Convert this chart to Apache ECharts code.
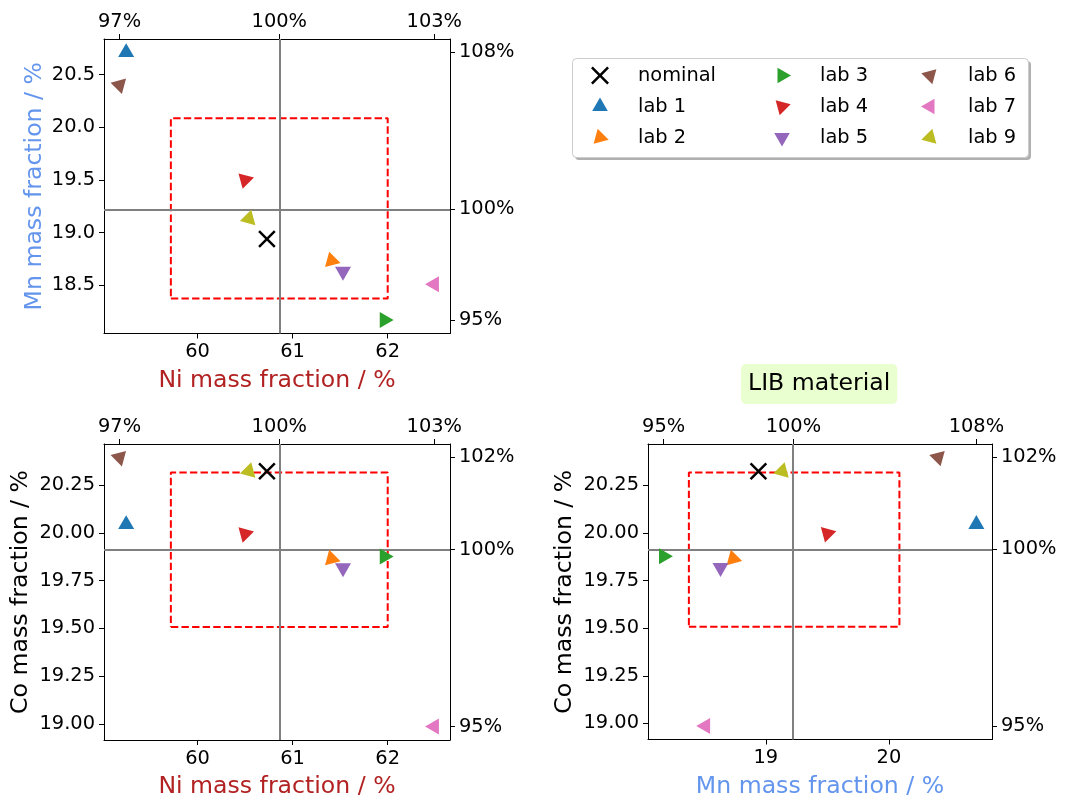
<!DOCTYPE html>
<html>
<head>
<meta charset="utf-8">
<script src="https://cdn.jsdelivr.net/npm/echarts@6/dist/echarts.min.js"></script>
<style>
  html, body { margin: 0; padding: 0; background: #fff; }
  #main { width: 1083px; height: 802px; }
</style>
</head>
<body>
<div id="main"></div>
<script>
// labels, in the order they are plotted
var labNames = ["nominal", "lab 1", "lab 2", "lab 3", "lab 4", "lab 5", "lab 6", "lab 7", "lab 9"];
// mass fractions / %
var niValues = [60.73, 59.25, 61.41, 61.965, 60.50, 61.53, 59.18, 62.49, 60.54];
var mnValues = [18.94, 20.71, 18.735, 18.17, 19.50, 18.632, 20.40, 18.51, 19.133];
var coValues = [20.324, 20.045, 19.865, 19.877, 19.996, 19.817, 20.396, 18.986, 20.324];

// mean lines (100 %)
var niRef = 60.86;
var mnRef = 19.224;
var coRef = 19.913;

// red dashed acceptance box [low, high]
var niBox = [59.72, 62.00];
var mnBox = [18.375, 20.085];
var coBox = [19.507, 20.317];

// tick positions and labels
var niTicks = [60, 61, 62];
var mnTicksLeft = [18.5, 19.0, 19.5, 20.0, 20.5];
var mnTicksBottom = [19, 20];
var coTicks = [19.0, 19.25, 19.5, 19.75, 20.0, 20.25];
var niPctTicks = [59.18, 60.86, 62.49];
var niPctLabels = ["97%", "100%", "103%"];
var mnPctTicks = [18.17, 19.224, 20.71];
var mnPctLabels = ["95%", "100%", "108%"];
var coPctTicks = [18.986, 19.913, 20.396];
var coPctLabels = ["95%", "100%", "102%"];

// axis ranges
var niRange = [59.017, 62.655];
var mnRange = [18.043, 20.837];
var coRange = [18.9155, 20.4665];

var colors = ["#000000", "#1f77b4", "#ff7f0e", "#2ca02c", "#d62728", "#9467bd", "#8c564b", "#e377c2", "#bcbd22"];
// triangle rotation, degrees counter-clockwise
var angles = [0, 0, 15, 30, 45, 60, 75, 90, 105];

var FONT = "DejaVu Sans";
var TICK_SIZE = 19.4;
var NAME_SIZE = 23.6;
var NI_COLOR = "#b22222";
var MN_COLOR = "#6495ed";

var crossPath = "path://M0,1L1,0L5,4L9,0L10,1L6,5L10,9L9,10L5,6L1,10L0,9L4,5Z";

// equilateral triangle around its centre, turned by deg; the two tiny
// extra bits keep the bounding box square so the centre stays put
function triangle(deg) {
  var pts = [];
  for (var j = 0; j < 3; j++) {
    var a = (90 + deg + 120 * j) * Math.PI / 180;
    pts.push(Math.cos(a).toFixed(4) + "," + (-Math.sin(a)).toFixed(4));
  }
  return "path://M" + pts.join("L") + "Z M-1,-1L-1,-0.999Z M1,1L1,0.999Z";
}

function markerOf(i) {
  return i === 0 ? crossPath : triangle(angles[i]);
}

var grids = [
  { left: 104, top: 39, width: 346, height: 294.5 },
  { left: 104, top: 444, width: 346, height: 296 },
  { left: 648, top: 444, width: 344, height: 295.5 }
];

function fixed(n) {
  return function (v) { return Number(v).toFixed(n); };
}

function lookup(vals, labels) {
  return function (v) {
    for (var i = 0; i < vals.length; i++) {
      if (Math.abs(v - vals[i]) < 1e-6) return labels[i];
    }
    return "";
  };
}

function makeAxis(gridIndex, position, range, ticks, fmt, name, nameColor, nameGap) {
  var axis = {
    type: "value",
    gridIndex: gridIndex,
    position: position,
    min: range[0],
    max: range[1],
    splitLine: { show: false },
    axisLine: { show: true, onZero: false, lineStyle: { color: "#000", width: 1 } },
    axisTick: { show: true, length: 5, customValues: ticks, lineStyle: { color: "#000", width: 1 } },
    axisLabel: {
      customValues: ticks,
      formatter: fmt,
      margin: (position === "top") ? 8 : 9,
      color: "#000",
      fontSize: TICK_SIZE,
      fontFamily: FONT
    }
  };
  if (name) {
    axis.name = name;
    axis.nameLocation = "middle";
    axis.nameGap = nameGap;
    axis.nameTextStyle = { color: nameColor, fontSize: NAME_SIZE, fontFamily: FONT };
  }
  return axis;
}

var xAxes = [
  makeAxis(0, "bottom", niRange, niTicks, fixed(0), "Ni mass fraction / %", NI_COLOR, 35),
  makeAxis(0, "top", niRange, niPctTicks, lookup(niPctTicks, niPctLabels)),
  makeAxis(1, "bottom", niRange, niTicks, fixed(0), "Ni mass fraction / %", NI_COLOR, 35),
  makeAxis(1, "top", niRange, niPctTicks, lookup(niPctTicks, niPctLabels)),
  makeAxis(2, "bottom", mnRange, mnTicksBottom, fixed(0), "Mn mass fraction / %", MN_COLOR, 35),
  makeAxis(2, "top", mnRange, mnPctTicks, lookup(mnPctTicks, mnPctLabels))
];

var yAxes = [
  makeAxis(0, "left", mnRange, mnTicksLeft, fixed(1), "Mn mass fraction / %", MN_COLOR, 57),
  makeAxis(0, "right", mnRange, mnPctTicks, lookup(mnPctTicks, mnPctLabels)),
  makeAxis(1, "left", coRange, coTicks, fixed(2), "Co mass fraction / %", "#000", 71),
  makeAxis(1, "right", coRange, coPctTicks, lookup(coPctTicks, coPctLabels)),
  makeAxis(2, "left", coRange, coTicks, fixed(2), "Co mass fraction / %", "#000", 71),
  makeAxis(2, "right", coRange, coPctTicks, lookup(coPctTicks, coPctLabels))
];

// x / y data for each panel
var panels = [
  { xs: niValues, ys: mnValues, xRef: niRef, yRef: mnRef, xBox: niBox, yBox: mnBox },
  { xs: niValues, ys: coValues, xRef: niRef, yRef: coRef, xBox: niBox, yBox: coBox },
  { xs: mnValues, ys: coValues, xRef: mnRef, yRef: coRef, xBox: mnBox, yBox: coBox }
];

var series = [];
panels.forEach(function (p, k) {
  series.push({
    name: "box" + k,
    type: "line",
    xAxisIndex: 2 * k,
    yAxisIndex: 2 * k,
    symbol: "none",
    silent: true,
    z: 2,
    lineStyle: { color: "#ff0000", width: 2, type: [7.4, 3.2] },
    data: [
      [p.xBox[0], p.yBox[0]], [p.xBox[1], p.yBox[0]],
      [p.xBox[1], p.yBox[1]], [p.xBox[0], p.yBox[1]],
      [p.xBox[0], p.yBox[0]]
    ],
    markLine: {
      silent: true,
      symbol: ["none", "none"],
      label: { show: false },
      lineStyle: { color: "#808080", width: 2, type: "solid" },
      data: [{ xAxis: p.xRef }, { yAxis: p.yRef }]
    }
  });
  for (var i = 0; i < labNames.length; i++) {
    series.push({
      name: labNames[i],
      type: "scatter",
      xAxisIndex: 2 * k,
      yAxisIndex: 2 * k,
      symbol: markerOf(i),
      symbolSize: i === 0 ? 17.5 : 18.5,
      itemStyle: { color: colors[i], opacity: 1 },
      z: 5,
      data: [[p.xs[i], p.ys[i]]]
    });
  }
});

function legendCol(from, to, left) {
  var items = [];
  for (var i = from; i < to; i++) {
    items.push({
      name: labNames[i],
      icon: markerOf(i),
      itemStyle: { color: colors[i] }
    });
  }
  return {
    data: items,
    orient: "vertical",
    left: left,
    top: 66,
    padding: 0,
    itemWidth: 18,
    itemHeight: 18,
    itemGap: 12,
    symbolKeepAspect: true,
    selectedMode: false,
    textStyle: { color: "#000", fontSize: TICK_SIZE, fontFamily: FONT, padding: [0, 0, 0, 24] }
  };
}

var option = {
  backgroundColor: "#fff",
  animation: false,
  textStyle: { fontFamily: FONT },
  title: {
    text: "LIB material",
    left: 741,
    top: 364,
    padding: [8, 7],
    backgroundColor: "#eaffd0",
    borderRadius: 5,
    textStyle: { color: "#000", fontSize: NAME_SIZE, fontWeight: "normal", fontFamily: FONT }
  },
  legend: [
    legendCol(0, 3, 591),
    legendCol(3, 6, 773),
    legendCol(6, 9, 921)
  ],
  graphic: [{
    type: "rect",
    left: 575,
    top: 61,
    z: 0,
    shape: { width: 456, height: 99, r: 4 },
    style: { fill: "#b0b0b0" }
  }, {
    type: "rect",
    left: 572,
    top: 58,
    z: 1,
    shape: { width: 456, height: 99, r: 4 },
    style: { fill: "#fff", stroke: "#cccccc", lineWidth: 1 }
  }],
  grid: grids,
  xAxis: xAxes,
  yAxis: yAxes,
  series: series
};

var myChart = echarts.init(document.getElementById("main"));
myChart.setOption(option);
</script>
</body>
</html>
